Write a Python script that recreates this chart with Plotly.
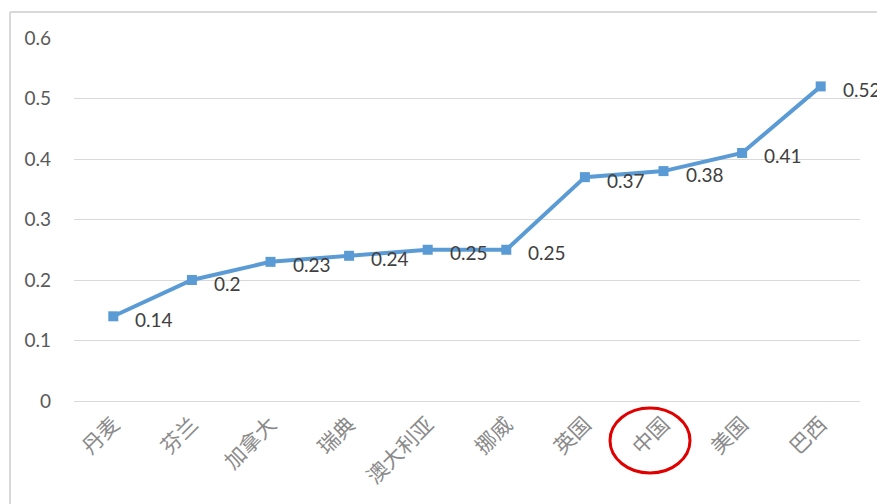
import plotly.graph_objects as go

countries = ["丹麦", "芬兰", "加拿大", "瑞典", "澳大利亚", "挪威", "英国", "中国", "美国", "巴西"]
values = [0.14, 0.2, 0.23, 0.24, 0.25, 0.25, 0.37, 0.38, 0.41, 0.52]
y_ticks = [0, 0.1, 0.2, 0.3, 0.4, 0.5, 0.6]
y_tick_labels = ["0", "0.1", "0.2", "0.3", "0.4", "0.5", "0.6"]
highlight = "中国"

fig = go.Figure()
fig.add_trace(go.Scatter(
    x=countries, y=values, mode="lines+markers",
    line=dict(color="#5B9BD5", width=4),
    marker=dict(symbol="square", size=10, color="#5B9BD5"),
    cliponaxis=False, showlegend=False,
))

for c, v in zip(countries, values):
    fig.add_annotation(x=c, y=v, text=f"{v:g}", showarrow=False,
                       xanchor="left", yanchor="middle", xshift=20, yshift=-3,
                       font=dict(family="Lato", size=19, color="#404040"))

hi = countries.index(highlight)
shapes = [
    # outer chart frame (top + left border)
    dict(type="line", xref="paper", yref="paper", x0=-0.0814, x1=1.1, y0=1.0716, y1=1.0716,
         line=dict(color="#D9D9D9", width=2)),
    dict(type="line", xref="paper", yref="paper", x0=-0.0814, x1=-0.0814, y0=1.0716, y1=-0.4,
         line=dict(color="#D9D9D9", width=2)),
    # red circle highlighting 中国
    dict(type="circle", xref="x", yref="paper", xsizemode="pixel", ysizemode="pixel",
         xanchor=hi, yanchor=0, x0=-53.5, x1=26.5, y0=-72, y1=-7,
         line=dict(color="#E00000", width=3)),
]

fig.update_layout(
    width=877, height=504,
    margin=dict(l=74, r=17, t=38, b=103),
    paper_bgcolor="white", plot_bgcolor="white",
    shapes=shapes,
    xaxis=dict(
        type="category", tickangle=-45, showgrid=False, showline=False, zeroline=False,
        ticks="", ticklabelstandoff=6,
        tickfont=dict(family="Noto Sans CJK SC", size=21, color="#8A8A8A"),
        range=[-0.5, len(countries) - 0.5],
    ),
    yaxis=dict(
        range=[0, 0.6], tickvals=y_ticks, ticktext=y_tick_labels,
        showgrid=True, gridcolor="#D9D9D9", gridwidth=1,
        zeroline=True, zerolinecolor="#D9D9D9", zerolinewidth=1,
        showline=False, ticks="", ticklabelstandoff=22,
        tickfont=dict(family="Lato", size=19, color="#595959"),
    ),
)

fig.write_html(
    "out.html",
    config={"displayModeBar": False},
    post_script="document.body.style.margin='0';document.body.style.overflow='hidden';",
)
